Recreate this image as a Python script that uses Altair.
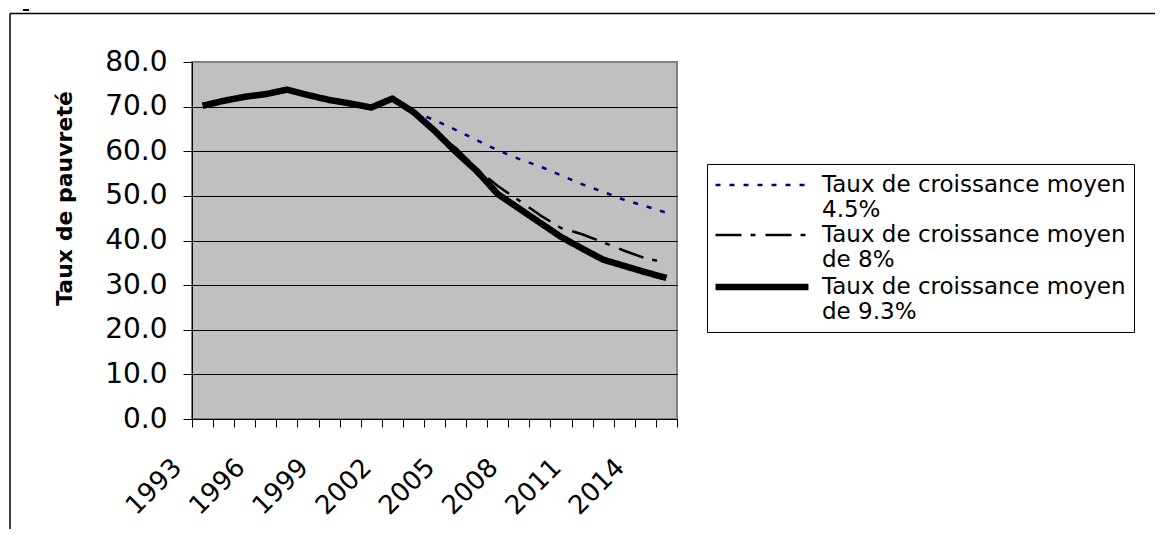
import altair as alt
import pandas as pd

# ---- data ----
years = list(range(1993, 2016))
years_proj = list(range(2003, 2016))

names = [
    "Taux de croissance moyen|4.5%",
    "Taux de croissance moyen|de 8%",
    "Taux de croissance moyen|de 9.3%",
]

rate_45 = [68.8, 67.0, 64.8, 62.5, 60.2, 58.3, 56.6, 54.6, 52.6, 50.9, 49.1, 47.7, 46.2]
rate_8 = [68.8, 64.3, 60.8, 56.1, 52.2, 49.0, 45.7, 42.8, 41.4, 39.6, 37.7, 36.0, 35.0]
rate_93 = [70.2, 71.3, 72.2, 72.8, 73.8, 72.6, 71.5, 70.7, 69.8, 71.8, 68.8,
           64.6, 59.9, 55.6, 50.4, 47.2, 44.0, 40.8, 38.2, 35.7, 34.3, 32.9, 31.6]

y_ticks = list(range(0, 81, 10))
x_tick_values = [1992.5 + i for i in range(24)]

rows = []
for y, v in zip(years_proj, rate_45):
    rows.append({"annee": y, "taux": v, "serie": names[0]})
for y, v in zip(years_proj, rate_8):
    rows.append({"annee": y, "taux": v, "serie": names[1]})
for y, v in zip(years, rate_93):
    rows.append({"annee": y, "taux": v, "serie": names[2]})
df = pd.DataFrame(rows)

FONT = "DejaVu Sans"

legend = alt.Legend(
    orient="none", legendX=515, legendY=102, title=None,
    labelExpr="split(datum.label, '|')",
    labelFont=FONT, labelFontSize=23, labelColor="black", labelLimit=600,
    labelOffset=45, labelBaseline="middle",
    symbolType="M-4,0L4,0", symbolSize=540, symbolOffset=32,
    strokeColor="black", fillColor="white", padding=8, rowPadding=0,
)

lines = alt.Chart(df).mark_line(strokeJoin="round").encode(
    x=alt.X("annee:Q",
            scale=alt.Scale(domain=[1992.5, 2015.5], nice=False, zero=False),
            axis=alt.Axis(values=x_tick_values,
                          labelExpr="(datum.value + 0.5 - 1993) % 3 == 0 && datum.value < 2015 ? '' + (datum.value + 0.5) : ''",
                          labelAngle=315, labelAlign="right", labelBaseline="middle",
                          labelOffset=-15, labelPadding=36, labelOverlap=False,
                          labelFont=FONT, labelFontSize=26, labelColor="black",
                          tickSize=8, tickColor="black", domainColor="black",
                          grid=False, title=None)),
    y=alt.Y("taux:Q",
            scale=alt.Scale(domain=[0, 80], nice=False),
            axis=alt.Axis(values=y_ticks, format=".1f",
                          labelFont=FONT, labelFontSize=28, labelColor="black",
                          labelPadding=16, tickSize=9, tickColor="black",
                          domainColor="black",
                          gridColor=alt.condition("datum.value == 80", alt.value("#808080"), alt.value("black")),
                          gridWidth=1,
                          title="Taux de pauvreté", titleFont=FONT, titleFontSize=22,
                          titleFontWeight="bold", titleColor="black",
                          titleAngle=270, titleX=-128, titleY=136,
                          titleAlign="center", titleBaseline="middle")),
    color=alt.Color("serie:N", scale=alt.Scale(domain=names, range=["#000080", "#000000", "#000000"]), legend=legend),
    strokeDash=alt.StrokeDash("serie:N", scale=alt.Scale(domain=names, range=[[5, 9], [26, 9, 5, 10], [1, 0]]), legend=legend),
    strokeWidth=alt.StrokeWidth("serie:N", scale=alt.Scale(type="ordinal", domain=names, range=[2.5, 2.5, 6.5]), legend=legend),
    order=alt.Order("annee:Q"),
)

one = pd.DataFrame({"k": [0]})
top_border = alt.Chart(one).mark_rule(color="black", strokeWidth=1.5).encode(
    x=alt.value(-182), x2=alt.value(980), y=alt.value(-48.5))
left_border = alt.Chart(one).mark_rule(color="black", strokeWidth=1.5).encode(
    x=alt.value(-182), y=alt.value(-48.5), y2=alt.value(480))
dash_mark = alt.Chart(one).mark_rule(color="black", strokeWidth=2).encode(
    x=alt.value(-169), x2=alt.value(-163), y=alt.value(-52))

chart = alt.layer(lines, top_border, left_border, dash_mark).properties(
    width=485, height=357,
    padding={"left": 184, "top": 54, "right": 478, "bottom": 110},
    autosize=alt.AutoSizeParams(type="none"),
    background="white",
).configure_view(fill="#C0C0C0", stroke="#808080", strokeWidth=2)

chart.save("out.html", embed_options={"renderer": "svg", "actions": False})
